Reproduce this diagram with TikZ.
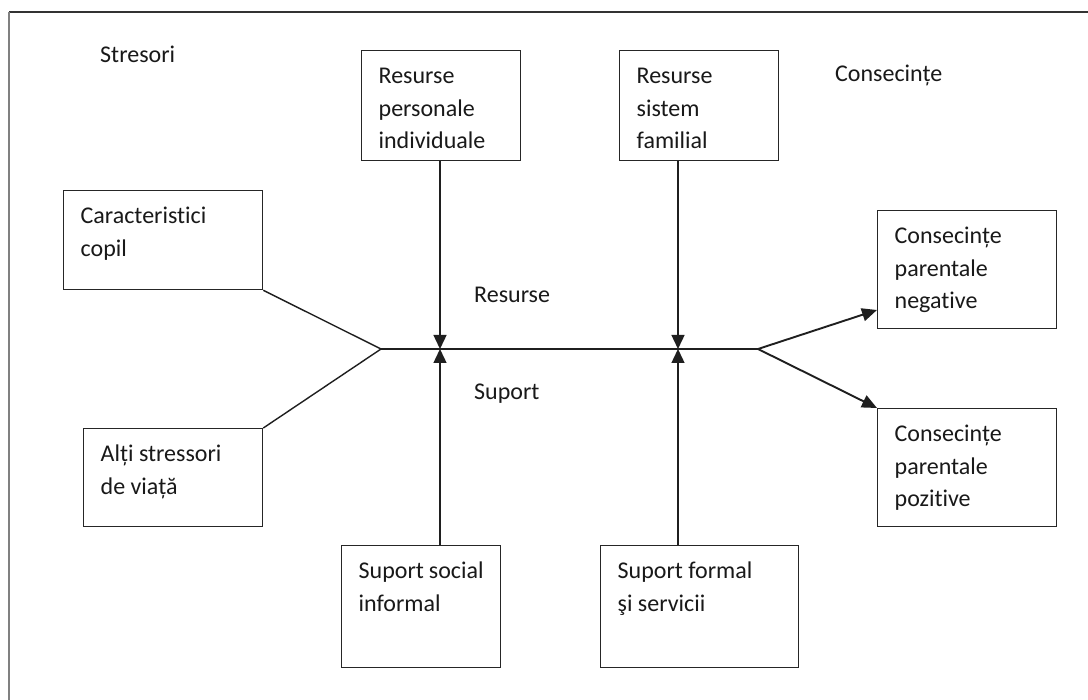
\documentclass[tikz,border=0pt]{standalone}
\usepackage{fontspec}
\setmainfont{Carlito}[Ligatures=NoCommon]
\usetikzlibrary{arrows.meta,calc}
\newcommand\bxtext[3]{\parbox[c][#2][t]{#1}{\raggedright\rule{0pt}{33pt}#3}}
\begin{document}
\begin{tikzpicture}[x=1pt,y=-1pt,
  every node/.style={font=\fontsize{24pt}{32.5pt}\selectfont, text=black!90},
  box/.style={draw=black!85, line width=1.3pt, inner xsep=17pt, inner ysep=0pt, anchor=north west},
  conn/.style={draw=black!88, line width=1.4pt},
  arr/.style={conn, -{Triangle[length=14pt,width=13pt]}},
  arrb/.style={draw=black!88, line width=1.9pt, -{Triangle[length=15pt,width=13pt]}},
  lbl/.style={anchor=base west, inner sep=0pt}]
\useasboundingbox (0,0) rectangle (1088,700);
\fill[white] (0,0) rectangle (1088,700);
% frame
\draw[black!80, line width=1.5pt] (9,12) -- (1088,12);
\draw[black!50, line width=1.5pt] (9,12) -- (9,700);
% titles
\node[lbl] (tstr) at (100,63) {Stresori};
\node[lbl] (tcons) at (835,82) {Consecințe};
\node[lbl] (tres) at (474,303) {Resurse};
\node[lbl] (tsup) at (474,400) {Suport};
% boxes
\node[box] (cc) at (63,190) {\bxtext{165pt}{99pt}{Caracteristici\\copil}};
\node[box] (as) at (83,428) {\bxtext{145pt}{98pt}{Alți stressori\\de viață}};
\node[box] (rp) at (361,50) {\bxtext{125pt}{110pt}{Resurse\\personale\\individuale}};
\node[box] (rs) at (619,50) {\bxtext{125pt}{110pt}{Resurse\\sistem\\familial}};
\node[box] (ng) at (877,210) {\bxtext{145pt}{118pt}{Consecințe\\parentale\\negative}};
\node[box] (ps) at (877,408) {\bxtext{145pt}{118pt}{Consecințe\\parentale\\pozitive}};
\node[box] (ss) at (341,545) {\bxtext{125pt}{122pt}{Suport social\\informal}};
\node[box] (sf) at (600,545) {\bxtext{164pt}{122pt}{Suport formal\\şi servicii}};
% junctions
\coordinate (jl) at (381,349);
\coordinate (jr) at (758,349);
\coordinate (m1) at (440,349);
\coordinate (m2) at (678,349);
\coordinate (tng) at (877,310);
% connectors
\draw[conn] (cc.south east) -- (jl);
\draw[conn] (as.north east) -- (jl);
\draw[conn] (jl) -- (jr);
\draw[arr] (rp.south -| m1) -- (m1);
\draw[arr] (ss.north -| m1) -- (m1);
\draw[arr] (rs.south -| m2) -- (m2);
\draw[arr] (sf.north -| m2) -- (m2);
\draw[arrb] (jr) -- (tng);
\draw[arrb] (jr) -- (ps.north west);
\end{tikzpicture}
\end{document}
